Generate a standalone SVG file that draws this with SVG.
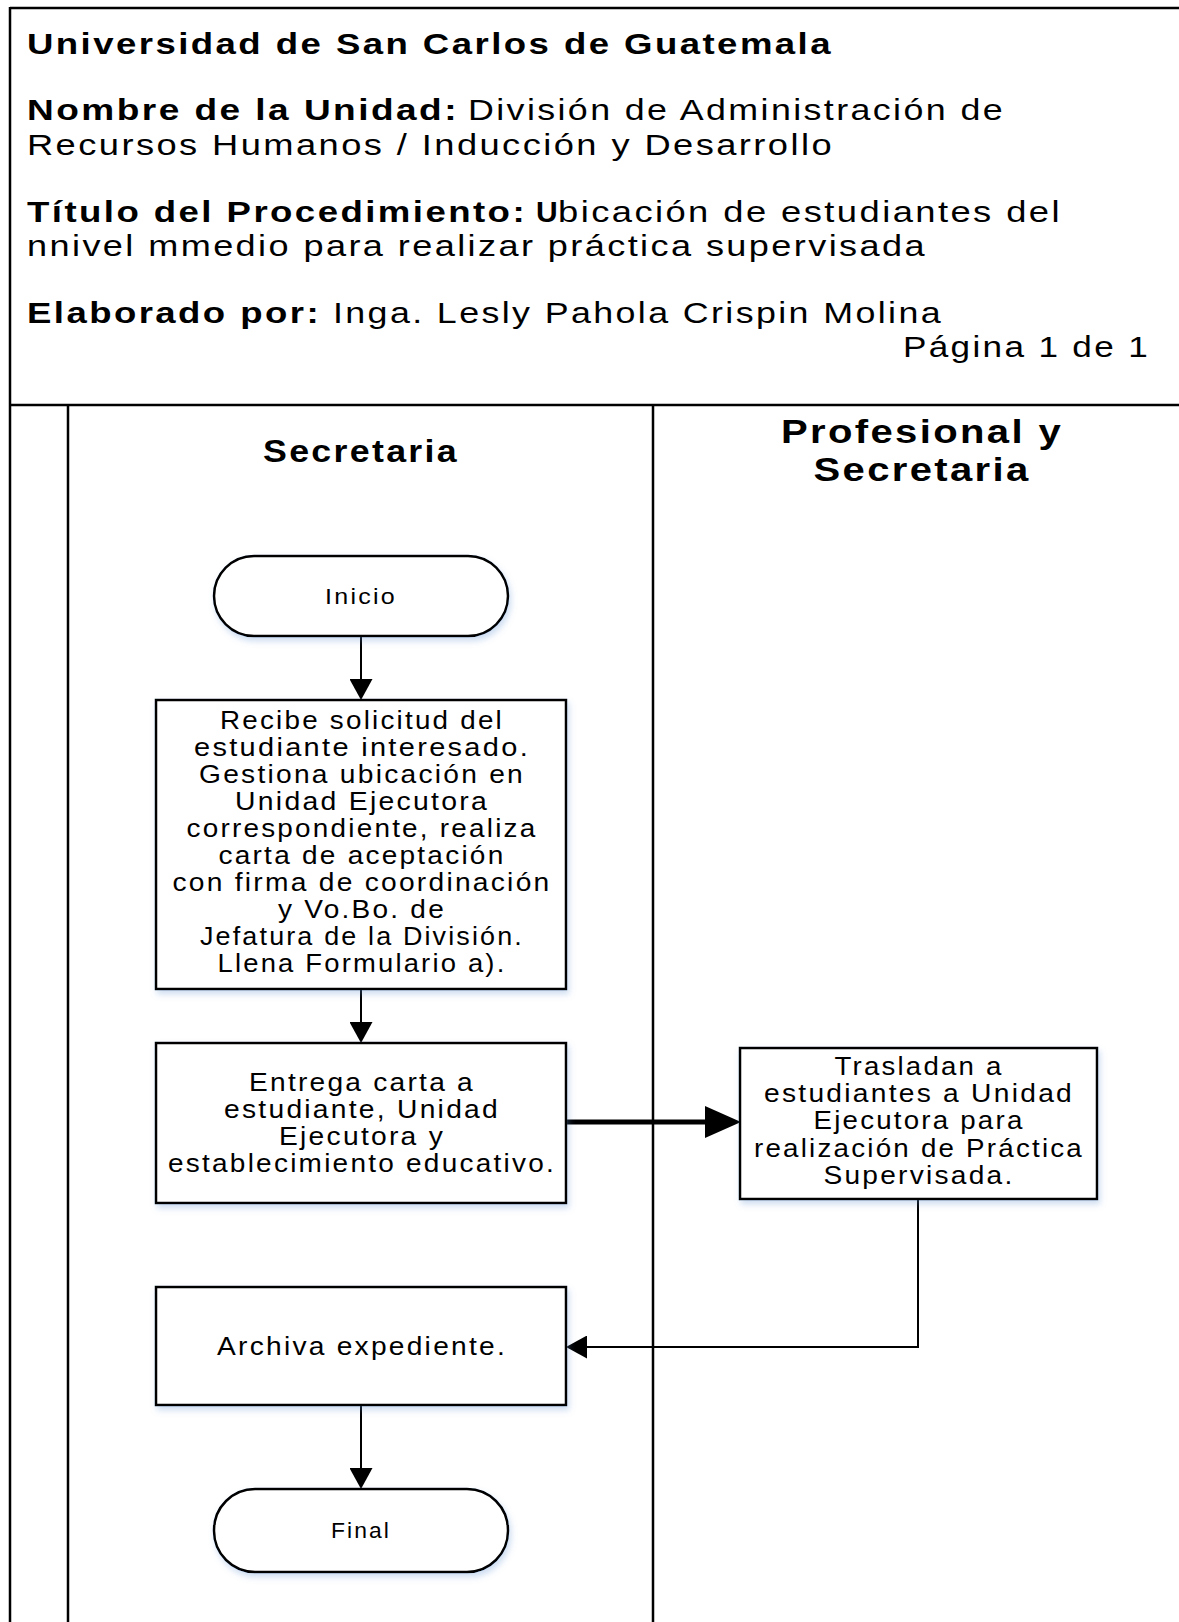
<svg xmlns="http://www.w3.org/2000/svg" width="1179" height="1622" viewBox="0 0 1179 1622">
<defs>
<style>
.t{font-family:"Liberation Sans",Arial,sans-serif;fill:#000;letter-spacing:2px}
.hb{font-size:30px;font-weight:bold}
.hr{font-size:30px}
.lane{font-size:31px;font-weight:bold;text-anchor:middle}
.lane2{font-size:34px;font-weight:bold;text-anchor:middle}
.box{fill:#fff;stroke:#000;stroke-width:2.5}
.bt{font-size:25px;text-anchor:middle}
.tt{font-size:22px;text-anchor:middle}
.ln{stroke:#000;stroke-width:2.5;fill:none}
.c{stroke:#000;stroke-width:2;fill:none}
.ct{stroke:#000;stroke-width:5;fill:none}
</style>
<filter id="sh" x="-10%" y="-10%" width="130%" height="140%">
<feDropShadow dx="2" dy="4" stdDeviation="3" flood-color="#5b8fd0" flood-opacity="0.3"/>
</filter>
<marker id="ah" viewBox="0 0 21 23" refX="0" refY="11.5" markerWidth="21" markerHeight="23" markerUnits="userSpaceOnUse" orient="auto">
<path d="M0,0 L21,11.5 L0,23 z" fill="#000"/>
</marker>
<marker id="ahb" viewBox="0 0 36 32" refX="0" refY="16" markerWidth="36" markerHeight="32" markerUnits="userSpaceOnUse" orient="auto">
<path d="M0,0 L36,16 L0,32 z" fill="#000"/>
</marker>
</defs>
<rect x="0" y="0" width="1179" height="1622" fill="#fff"/>

<g id="frame">
<line class="ln" x1="10" y1="8" x2="1179" y2="8" stroke-width="3"/>
<line class="ln" x1="10" y1="7" x2="10" y2="1622" stroke-width="3"/>
<line class="ln" x1="10" y1="405" x2="1179" y2="405"/>
</g>

<g id="header">
<text class="t hb" x="27" y="54" textLength="806" lengthAdjust="spacingAndGlyphs">Universidad de San Carlos de Guatemala</text>
<text class="t hb" x="27" y="120" textLength="432" lengthAdjust="spacingAndGlyphs">Nombre de la Unidad:</text>
<text class="t hr" x="468" y="120" textLength="537" lengthAdjust="spacingAndGlyphs">División de Administración de</text>
<text class="t hr" x="27" y="155" textLength="807" lengthAdjust="spacingAndGlyphs">Recursos Humanos / Inducción y Desarrollo</text>
<text class="t hb" x="27" y="222" textLength="500" lengthAdjust="spacingAndGlyphs">Título del Procedimiento:</text>
<text class="t hb" x="536" y="222">U</text>
<text class="t hr" x="558" y="222" textLength="504" lengthAdjust="spacingAndGlyphs">bicación de estudiantes del</text>
<text class="t hr" x="27" y="256" textLength="900" lengthAdjust="spacingAndGlyphs">nnivel mmedio para realizar práctica supervisada</text>
<text class="t hb" x="27" y="323" textLength="294" lengthAdjust="spacingAndGlyphs">Elaborado por:</text>
<text class="t hr" x="333" y="323" textLength="610" lengthAdjust="spacingAndGlyphs">Inga. Lesly Pahola Crispin Molina</text>
<text class="t hr" x="903" y="357" textLength="247" lengthAdjust="spacingAndGlyphs">Página 1 de 1</text>
</g>

<g id="lanes">
<line class="ln" x1="68" y1="405" x2="68" y2="1622"/>
<line class="ln" x1="653" y1="405" x2="653" y2="1622"/>
<line class="ln" x1="68" y1="497" x2="1179" y2="497" filter="url(#sh)"/>
</g>
<g id="lane-secretaria">
<text class="t lane" x="361" y="462" textLength="196" lengthAdjust="spacingAndGlyphs">Secretaria</text>
</g>
<g id="lane-profesional">
<text class="t lane2" x="922" y="443" textLength="282" lengthAdjust="spacingAndGlyphs">Profesional y</text>
<text class="t lane2" x="922" y="481" textLength="217" lengthAdjust="spacingAndGlyphs">Secretaria</text>
</g>

<g id="connectors">
<line class="c" x1="361" y1="636" x2="361" y2="679" marker-end="url(#ah)"/>
<line class="c" x1="361" y1="989" x2="361" y2="1022" marker-end="url(#ah)"/>
<line class="ct" x1="564" y1="1122" x2="705" y2="1122" stroke-linecap="round" marker-end="url(#ahb)"/>
<path class="c" d="M918,1199 V1347 H587" marker-end="url(#ah)"/>
<line class="c" x1="361" y1="1405" x2="361" y2="1468" marker-end="url(#ah)"/>
</g>

<g id="n-inicio">
<rect class="box" x="214" y="556" width="294" height="80" rx="40" ry="40" filter="url(#sh)"/>
<text class="t tt" x="361" y="604" textLength="72" lengthAdjust="spacingAndGlyphs">Inicio</text>
</g>

<g id="n-recibe">
<rect class="box" x="156" y="700" width="410" height="289" filter="url(#sh)"/>
<text class="t bt" x="362" y="729" textLength="284" lengthAdjust="spacingAndGlyphs">Recibe solicitud del</text>
<text class="t bt" x="362" y="756" textLength="336" lengthAdjust="spacingAndGlyphs">estudiante interesado.</text>
<text class="t bt" x="362" y="783" textLength="326" lengthAdjust="spacingAndGlyphs">Gestiona ubicación en</text>
<text class="t bt" x="362" y="810" textLength="254" lengthAdjust="spacingAndGlyphs">Unidad Ejecutora</text>
<text class="t bt" x="362" y="837" textLength="351" lengthAdjust="spacingAndGlyphs">correspondiente, realiza</text>
<text class="t bt" x="362" y="864" textLength="287" lengthAdjust="spacingAndGlyphs">carta de aceptación</text>
<text class="t bt" x="362" y="891" textLength="379" lengthAdjust="spacingAndGlyphs">con firma de coordinación</text>
<text class="t bt" x="362" y="918" textLength="168" lengthAdjust="spacingAndGlyphs">y Vo.Bo. de</text>
<text class="t bt" x="362" y="945" textLength="324" lengthAdjust="spacingAndGlyphs">Jefatura de la División.</text>
<text class="t bt" x="362" y="972" textLength="289" lengthAdjust="spacingAndGlyphs">Llena Formulario a).</text>
</g>

<g id="n-entrega">
<rect class="box" x="156" y="1043" width="410" height="160" filter="url(#sh)"/>
<text class="t bt" x="362" y="1091" textLength="226" lengthAdjust="spacingAndGlyphs">Entrega carta a</text>
<text class="t bt" x="362" y="1118" textLength="276" lengthAdjust="spacingAndGlyphs">estudiante, Unidad</text>
<text class="t bt" x="362" y="1145" textLength="166" lengthAdjust="spacingAndGlyphs">Ejecutora y</text>
<text class="t bt" x="362" y="1172" textLength="388" lengthAdjust="spacingAndGlyphs">establecimiento educativo.</text>
</g>

<g id="n-trasladan">
<rect class="box" x="740" y="1048" width="357" height="151" filter="url(#sh)"/>
<text class="t bt" x="919" y="1075" textLength="169" lengthAdjust="spacingAndGlyphs">Trasladan a</text>
<text class="t bt" x="919" y="1102" textLength="310" lengthAdjust="spacingAndGlyphs">estudiantes a Unidad</text>
<text class="t bt" x="919" y="1129" textLength="211" lengthAdjust="spacingAndGlyphs">Ejecutora para</text>
<text class="t bt" x="919" y="1157" textLength="330" lengthAdjust="spacingAndGlyphs">realización de Práctica</text>
<text class="t bt" x="919" y="1184" textLength="191" lengthAdjust="spacingAndGlyphs">Supervisada.</text>
</g>

<g id="n-archiva">
<rect class="box" x="156" y="1287" width="410" height="118" filter="url(#sh)"/>
<text class="t bt" x="362" y="1355" textLength="290" lengthAdjust="spacingAndGlyphs">Archiva expediente.</text>
</g>

<g id="n-final">
<rect class="box" x="214" y="1489" width="294" height="83" rx="41" ry="41" filter="url(#sh)"/>
<text class="t tt" x="361" y="1538" textLength="60" lengthAdjust="spacingAndGlyphs">Final</text>
</g>
</svg>
